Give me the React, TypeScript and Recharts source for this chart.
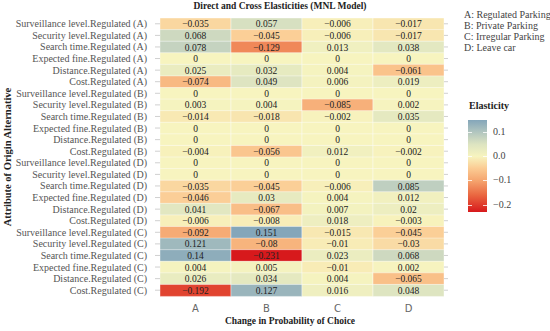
import React from "react"
import {
  BarChart,
  Bar,
  XAxis,
  YAxis,
  Cell,
  LabelList,
} from "recharts"

// attribute rows, top to bottom
const rows = [
  "Surveillance level.Regulated (A)",
  "Security level.Regulated (A)",
  "Search time.Regulated (A)",
  "Expected fine.Regulated (A)",
  "Distance.Regulated (A)",
  "Cost.Regulated (A)",
  "Surveillance level.Regulated (B)",
  "Security level.Regulated (B)",
  "Search time.Regulated (B)",
  "Expected fine.Regulated (B)",
  "Distance.Regulated (B)",
  "Cost.Regulated (B)",
  "Surveillance level.Regulated (D)",
  "Security level.Regulated (D)",
  "Search time.Regulated (D)",
  "Expected fine.Regulated (D)",
  "Distance.Regulated (D)",
  "Cost.Regulated (D)",
  "Surveillance level.Regulated (C)",
  "Security level.Regulated (C)",
  "Search time.Regulated (C)",
  "Expected fine.Regulated (C)",
  "Distance.Regulated (C)",
  "Cost.Regulated (C)",
]

const colA = [-0.035, 0.068, 0.078, 0, 0.025, -0.074, 0, 0.003, -0.014, 0, 0, -0.004, 0, 0, -0.035, -0.046, 0.041, -0.006, -0.092, 0.121, 0.14, 0.004, 0.026, -0.192]
const colB = [0.057, -0.045, -0.129, 0, 0.032, 0.049, 0, 0.004, -0.018, 0, 0, -0.056, 0, 0, -0.045, 0.03, -0.067, -0.008, 0.151, -0.08, -0.231, 0.005, 0.034, 0.127]
const colC = [-0.006, -0.006, 0.013, 0, 0.004, 0.006, 0, -0.085, -0.002, 0, 0, 0.012, 0, 0, -0.006, 0.004, 0.007, 0.018, -0.015, -0.01, 0.023, -0.01, 0.004, 0.016]
const colD = [-0.017, -0.017, 0.038, 0, -0.061, 0.019, 0, 0.002, 0.035, 0, 0, -0.002, 0, 0, 0.085, 0.012, 0.02, -0.003, -0.045, -0.03, 0.068, 0.002, -0.065, 0.048]

const columns = ["A", "B", "C", "D"]
const legendItems = ["A: Regulated Parking", "B: Private Parking", "C: Irregular Parking", "D: Leave car"]
const barTicks = [0.1, 0.0, -0.1, -0.2]
const barTickLabels = ["0.1", "0.0", "−0.1", "−0.2"]

const vMin = -0.231
const vMax = 0.151

const stops: [number, string][] = [
  [-0.231, "#d7191c"],
  [-0.16, "#ea6841"],
  [-0.1, "#f5a56f"],
  [-0.05, "#fbcb93"],
  [0, "#f7f4bf"],
  [0.05, "#dde4c1"],
  [0.1, "#b2c6bf"],
  [0.151, "#84a6ba"],
]

function hex(c: string) {
  return [1, 3, 5].map((i) => parseInt(c.slice(i, i + 2), 16))
}

function colorFor(v: number) {
  if (v <= stops[0][0]) return stops[0][1]
  for (let i = 1; i < stops.length; i++) {
    if (v <= stops[i][0]) {
      const [a, ca] = stops[i - 1]
      const [b, cb] = stops[i]
      const t = (v - a) / (b - a)
      const x = hex(ca)
      const y = hex(cb)
      const m = x.map((q, k) => Math.round(q + (y[k] - q) * t))
      return `rgb(${m[0]},${m[1]},${m[2]})`
    }
  }
  return stops[stops.length - 1][1]
}

function fmt(v: number) {
  if (v === 0) return "0"
  return (v < 0 ? "\u2212" : "") + String(Math.abs(v))
}

const cols = [colA, colB, colC, colD]
const data = rows.map((row, i) => ({
  row,
  wA: 1, wB: 1, wC: 1, wD: 1,
  vA: colA[i], vB: colB[i], vC: colC[i], vD: colD[i],
}))

const serif = "'Liberation Serif', 'DejaVu Serif', serif"

function RowTick({ x, y, payload }: any) {
  return (
    <text x={x} y={y} dy={3.5} textAnchor="end" fontSize={10} fill="#555" fontFamily={serif}>
      {payload.value}
    </text>
  )
}

export default function App() {
  const gradient = stops
    .slice()
    .reverse()
    .map(([v, c]) => `${c} ${((vMax - v) / (vMax - vMin)) * 100}%`)
    .join(", ")

  return (
    <div style={{ position: "absolute", left: 0, top: 0, width: 550, height: 331, background: "#fff", fontFamily: serif }}>
      <BarChart
        width={550}
        height={331}
        data={data}
        layout="vertical"
        barCategoryGap={0}
        margin={{ top: 18, right: 100, bottom: 0, left: 0 }}
      >
        <XAxis
          type="number"
          domain={[0, 4]}
          ticks={[0.5, 1.5, 2.5, 3.5]}
          tickFormatter={(v: number) => columns[Math.floor(v)]}
          axisLine={false}
          tickLine={false}
          tickMargin={3}
          height={35}
          tick={{ fontSize: 10, fill: "#666", fontFamily: "'DejaVu Sans', sans-serif" }}
        />
        <YAxis
          type="category"
          dataKey="row"
          width={160}
          axisLine={false}
          tickSize={5}
          tickMargin={8}
          tickLine={{ stroke: "#d0d0d0" }}
          interval={0}
          tick={<RowTick />}
        />
        <YAxis
          yAxisId="r"
          orientation="right"
          type="category"
          dataKey="row"
          width={6}
          axisLine={false}
          tickSize={4}
          tickLine={{ stroke: "#d0d0d0" }}
          interval={0}
          tickFormatter={() => ""}
        />
        {["A", "B", "C", "D"].map((k, j) => (
          <Bar key={k} dataKey={"w" + k} stackId="s" isAnimationActive={false}>
            {data.map((d, i) => (
              <Cell key={i} fill={colorFor(cols[j][i])} stroke="#fff" strokeWidth={0.4} />
            ))}
            <LabelList
              dataKey={"v" + k}
              position="center"
              formatter={(v: number) => fmt(v)}
              style={{ fontSize: 9.5, fill: "#222", fontFamily: serif }}
            />
          </Bar>
        ))}
      </BarChart>

      <div style={{ position: "absolute", left: 0, width: 560, top: 1, textAlign: "center", fontSize: 9.5, fontWeight: "bold", color: "#222" }}>
        Direct and Cross Elasticities (MNL Model)
      </div>
      <div style={{ position: "absolute", left: 140, width: 300, top: 316, textAlign: "center", fontSize: 9.5, fontWeight: "bold", color: "#222" }}>
        Change in Probability of Choice
      </div>
      <div
        style={{
          position: "absolute",
          left: 7,
          top: 157,
          transform: "translate(-50%, -50%) rotate(-90deg)",
          whiteSpace: "nowrap",
          fontSize: 10.5,
          fontWeight: "bold",
          color: "#222",
        }}
      >
        Attribute of Origin Alternative
      </div>

      <div style={{ position: "absolute", left: 464, top: 9, fontSize: 10, lineHeight: "11px", color: "#444" }}>
        {legendItems.map((t) => (
          <div key={t} style={{ whiteSpace: "nowrap" }}>{t}</div>
        ))}
      </div>

      <div style={{ position: "absolute", left: 469, top: 100, fontSize: 10, fontWeight: "bold", color: "#222" }}>
        Elasticity
      </div>
      <div style={{ position: "absolute", left: 468, top: 120, width: 19, height: 92, background: `linear-gradient(to bottom, ${gradient})` }} />
      {barTicks.map((v, i) => {
        const y = 120 + ((vMax - v) / (vMax - vMin)) * 92
        return (
          <React.Fragment key={v}>
            <div style={{ position: "absolute", left: 468, top: y, width: 4, height: 1, background: "rgba(255,255,255,0.8)" }} />
            <div style={{ position: "absolute", left: 483, top: y, width: 4, height: 1, background: "rgba(255,255,255,0.8)" }} />
            <div style={{ position: "absolute", left: 493, top: y - 6, fontSize: 10, color: "#444", whiteSpace: "nowrap" }}>
              {barTickLabels[i]}
            </div>
          </React.Fragment>
        )
      })}
    </div>
  )
}
